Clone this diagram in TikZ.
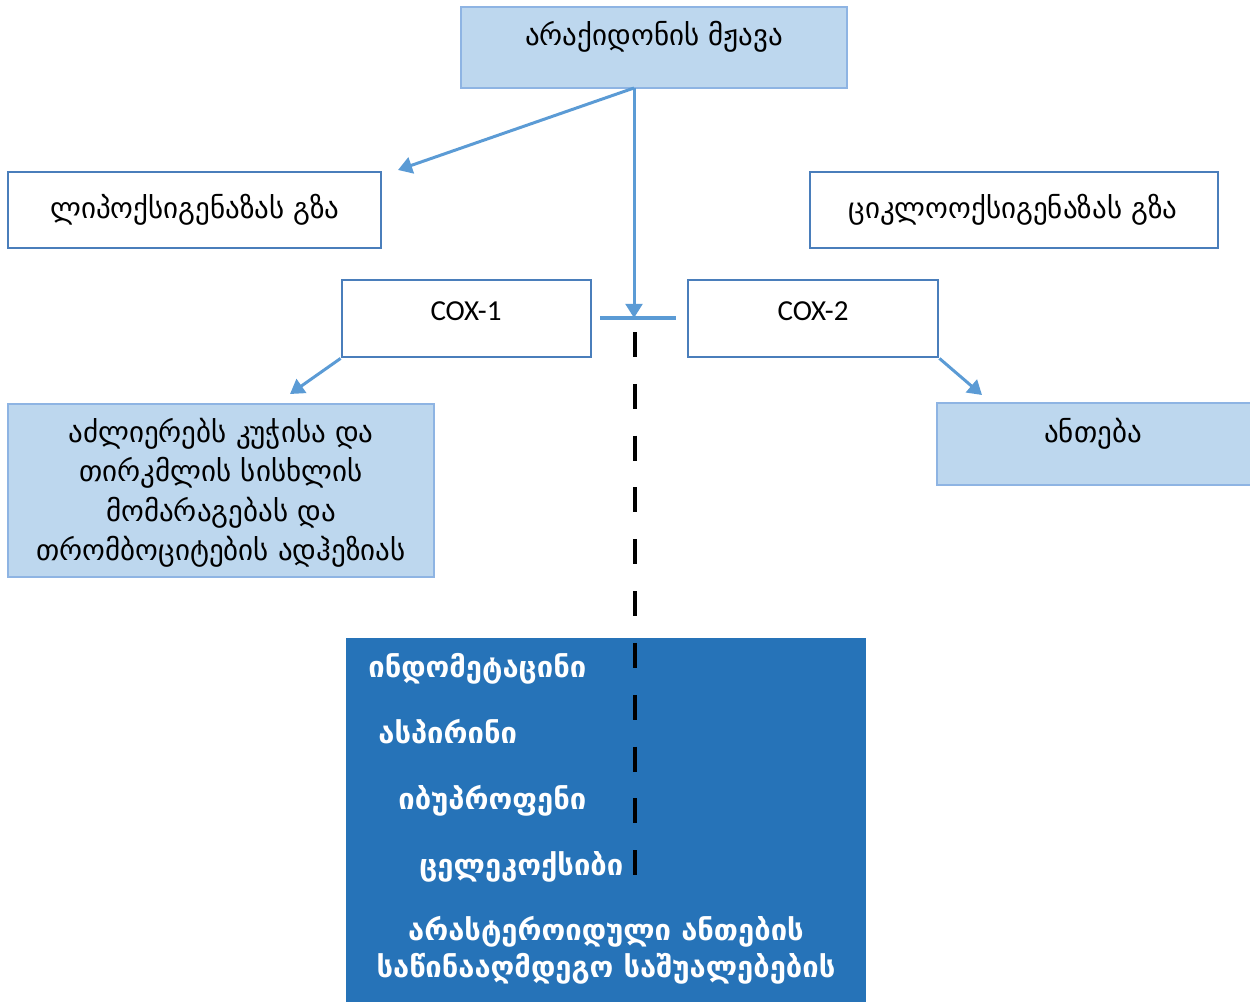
\documentclass[tikz,border=0pt]{standalone}
\usepackage{fontspec}
\setmainfont{Carlito}
\newfontfamily\geo{DejaVu Sans}
\usetikzlibrary{arrows.meta,fit}
\definecolor{lfill}{HTML}{BDD7EE}
\definecolor{lbord}{HTML}{8EB4E3}
\definecolor{wbord}{HTML}{4A7EBB}
\definecolor{arrc}{HTML}{5B9BD5}
\definecolor{dfill}{HTML}{2673B8}
\begin{document}
\begin{tikzpicture}[x=0.02cm,y=-0.02cm,
 lbox/.style={draw=lbord, fill=lfill, line width=1.1pt, inner sep=0pt},
 wbox/.style={draw=wbord, fill=white, line width=1.6pt, inner sep=0pt},
 dbox/.style={draw=none, fill=dfill, inner sep=0pt},
 gtxt/.style={font=\geo\fontsize{16.5}{22.5}\selectfont, text=black, inner sep=0pt, anchor=base},
 ctxt/.style={font=\fontsize{16.5}{20}\selectfont, text=black, inner sep=0pt, anchor=base},
 wtxt/.style={font=\geo\bfseries\fontsize{16.6}{21}\selectfont, text=white, inner sep=0pt, anchor=base west},
 arr/.style={draw=arrc, line width=1.7pt, -{Triangle[width=9.5pt,length=8pt]}},
]
\useasboundingbox (0,0) rectangle (1250,1001);
% boxes
\node[lbox, fit={(461,7)(847,88)}] (acid) {};
\node[wbox, fit={(8,172)(381,248)}] (lipox) {};
\node[wbox, fit={(810,172)(1218,248)}] (cyclo) {};
\node[wbox, fit={(342,280)(591,357)}] (cox1) {};
\node[wbox, fit={(688,280)(938,357)}] (cox2) {};
\node[lbox, fit={(8,404)(434,577)}] (prot) {};
\node[lbox, fit={(937,403)(1262,485)}] (infl) {};
\node[dbox, fit={(346,638)(866,1020)}] (nsaid) {};
% texts
\node[gtxt] (tacid) at (654,45) {არაქიდონის მჟავა};
\node[gtxt] (tlipox) at (195,218) {ლიპოქსიგენაზას გზა};
\node[gtxt] (tcyclo) at (1013,218) {ციკლოოქსიგენაზას გზა};
\node[ctxt] (tcox1) at (466,320) {COX-1};
\node[ctxt] (tcox2) at (813,320) {COX-2};
\node[gtxt] (tp1) at (221,442) {აძლიერებს კუჭისა და};
\node[gtxt] (tp2) at (221,481) {თირკმლის სისხლის};
\node[gtxt] (tp3) at (221,521) {მომარაგებას და};
\node[gtxt] (tp4) at (221,560) {თრომბოციტების ადჰეზიას};
\node[gtxt] (tinfl) at (1093,442) {ანთება};
\node[wtxt] (d1) at (368,677) {ინდომეტაცინი};
\node[wtxt] (d2) at (378,743) {ასპირინი};
\node[wtxt] (d3) at (398,809) {იბუპროფენი};
\node[wtxt] (d4) at (419,875) {ცელეკოქსიბი};
\node[wtxt, anchor=base] (d5) at (606,940) {არასტეროიდული ანთების};
\node[wtxt, anchor=base] (d6) at (606,977) {საწინააღმდეგო საშუალებების};
% connectors
\coordinate (src) at (634,88);
\coordinate (lipend) at (398,170);
\coordinate (barL) at (600,318);
\coordinate (barR) at (676,318);
\coordinate (barM) at (634,318);
\coordinate (p1end) at (290,394);
\coordinate (p2end) at (982,395);
\coordinate (dashTop) at (635,332);
\coordinate (dashBot) at (635,876);
\draw[arr] (src) -- (lipend);
\draw[arr] (src) -- (barM);
\draw[draw=arrc, line width=2.2pt] (barL) -- (barR);
\draw[arr] (cox1.south west) -- (p1end);
\draw[arr] (cox2.south east) -- (p2end);
\draw[black, line width=1.9pt, dash pattern=on 14.2pt off 15.3pt] (dashTop) -- (dashBot);
\end{tikzpicture}
\end{document}
